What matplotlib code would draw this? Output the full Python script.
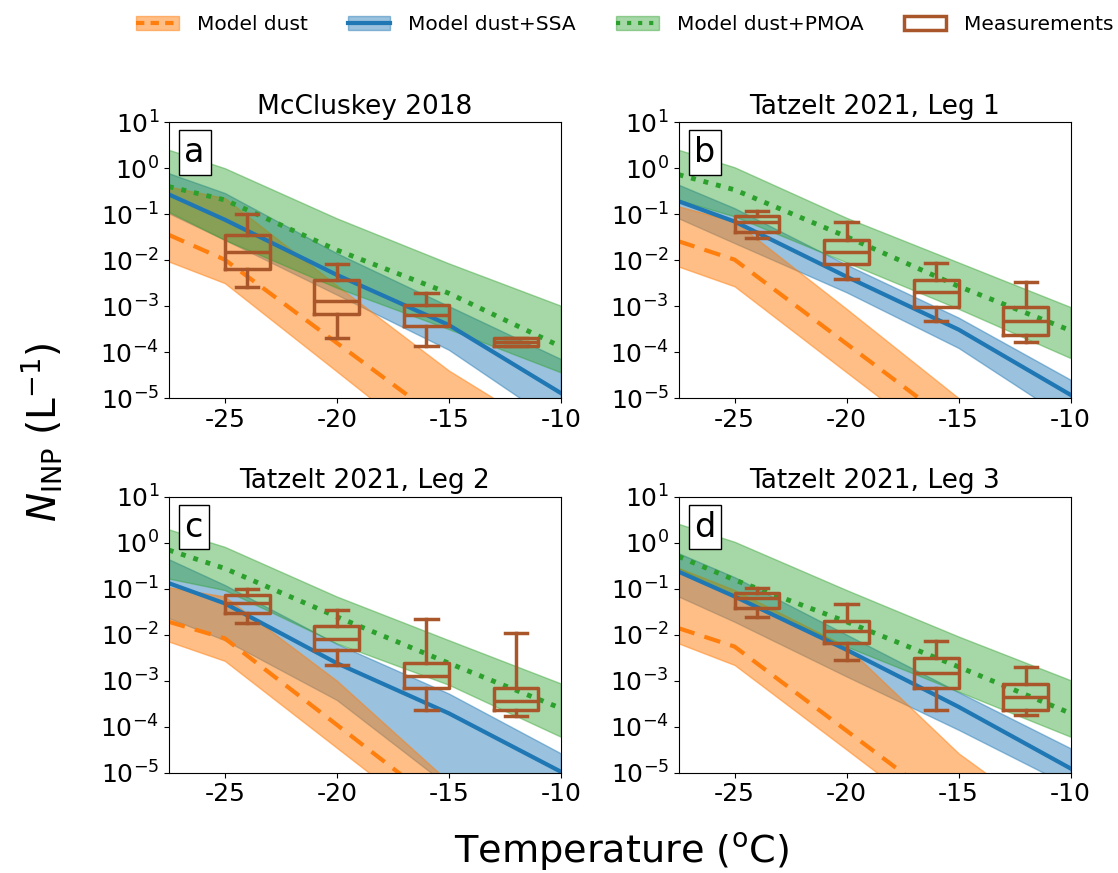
import numpy as np
import matplotlib
matplotlib.use('Agg')
import matplotlib.pyplot as plt
from matplotlib.patches import Patch
from matplotlib.lines import Line2D
from matplotlib.ticker import NullLocator

plt.rcParams['axes.unicode_minus'] = False

# model nodes (temperature, degC); model values stored as log10(N_INP / L^-1)
temps = [-27.5, -25, -20, -15, -10]

titles = ['McCluskey 2018', 'Tatzelt 2021, Leg 1', 'Tatzelt 2021, Leg 2', 'Tatzelt 2021, Leg 3']
letters = ['a', 'b', 'c', 'd']

dust_med = [[-1.45, -1.99, -3.80, -5.60, -7.40],
            [-1.59, -1.99, -3.82, -5.65, -7.48],
            [-1.72, -2.08, -3.96, -5.85, -7.73],
            [-1.86, -2.26, -4.09, -5.92, -7.75]]
dust_lo = [[-2.03, -2.50, -4.42, -6.35, -8.30],
           [-2.14, -2.57, -4.44, -6.30, -8.20],
           [-2.15, -2.57, -4.46, -6.35, -8.24],
           [-2.19, -2.66, -4.50, -6.35, -8.20]]
dust_hi = [[-0.40, -0.65, -2.55, -4.40, -5.90],
           [-0.83, -1.16, -3.06, -5.00, -6.90],
           [-0.97, -1.17, -3.00, -5.20, -7.00],
           [-0.55, -1.03, -2.26, -4.58, -6.35]]

ssa_med = [[-0.57, -1.12, -2.32, -3.41, -4.89],
           [-0.72, -1.16, -2.36, -3.51, -4.93],
           [-0.88, -1.32, -2.62, -3.71, -4.98],
           [-0.63, -1.17, -2.33, -3.57, -4.91]]
ssa_lo = [[-0.98, -1.56, -2.75, -3.95, -5.60],
          [-1.09, -1.63, -2.70, -3.91, -5.50],
          [-1.64, -2.12, -3.42, -5.30, -7.20],
          [-1.17, -1.72, -2.91, -4.07, -5.30]]
ssa_hi = [[-0.11, -0.54, -1.85, -3.00, -4.15],
          [-0.36, -0.87, -2.10, -3.25, -4.60],
          [-0.36, -0.92, -2.20, -3.28, -4.58],
          [-0.23, -0.75, -2.00, -3.25, -4.47]]

pmoa_med = [[-0.40, -0.69, -1.78, -2.72, -3.88],
            [-0.14, -0.47, -1.49, -2.57, -3.53],
            [-0.16, -0.56, -1.61, -2.62, -3.60],
            [-0.30, -0.81, -1.72, -2.70, -3.71]]
pmoa_lo = [[-0.95, -1.56, -2.60, -3.50, -4.44],
           [-0.69, -1.05, -2.05, -3.06, -4.13],
           [-0.78, -1.03, -2.19, -3.09, -4.22],
           [-0.56, -1.17, -2.26, -3.24, -4.22]]
pmoa_hi = [[0.40, 0.00, -1.09, -2.07, -2.99],
           [0.40, 0.02, -1.08, -2.05, -3.02],
           [0.29, -0.09, -1.17, -2.12, -3.06],
           [0.41, 0.02, -1.03, -2.04, -2.99]]

# measurements: box positions and log10 of (whislo, q1, med, q3, whishi)
box_temps = [-24, -20, -16, -12]
meas = [[[-2.59, -2.19, -1.83, -1.45, -0.99], [-3.70, -3.17, -2.88, -2.44, -2.09],
         [-3.86, -3.44, -3.19, -2.97, -2.71], [-3.86, -3.86, -3.78, -3.70, -3.70]],
        [[-1.52, -1.38, -1.18, -1.05, -0.93], [-2.41, -2.09, -1.83, -1.57, -1.16],
         [-3.33, -3.02, -2.70, -2.44, -2.07], [-3.77, -3.62, -3.33, -3.02, -2.48]],
        [[-1.75, -1.52, -1.32, -1.13, -1.00], [-2.67, -2.33, -2.09, -1.81, -1.47],
         [-3.64, -3.17, -2.90, -2.62, -1.67], [-3.77, -3.64, -3.44, -3.15, -1.97]],
        [[-1.61, -1.41, -1.21, -1.09, -0.99], [-2.55, -2.19, -1.93, -1.70, -1.33],
         [-3.64, -3.17, -2.84, -2.50, -2.14], [-3.75, -3.64, -3.35, -3.07, -2.71]]]

c_dust = '#ff7f0e'
c_ssa = '#1f77b4'
c_pmoa = '#2ca02c'
c_box = '#a9562b'

fig = plt.figure(figsize=(11.18, 8.73), dpi=100)
w, h = 0.3506, 0.316
positions = [(0.151, 0.544), (0.607, 0.544), (0.151, 0.115), (0.607, 0.115)]

T = np.array(temps)
for i in range(4):
    ax = fig.add_axes([positions[i][0], positions[i][1], w, h])
    # blue first so orange on top gives the brownish overlap
    ax.fill_between(T, 10**np.array(ssa_lo[i]), 10**np.array(ssa_hi[i]), color=c_ssa, alpha=0.45)
    ax.fill_between(T, 10**np.array(dust_lo[i]), 10**np.array(dust_hi[i]), color=c_dust, alpha=0.5)
    ax.fill_between(T, 10**np.array(pmoa_lo[i]), 10**np.array(pmoa_hi[i]), color=c_pmoa, alpha=0.42)
    ax.plot(T, 10**np.array(dust_med[i]), color=c_dust, lw=3, ls='--', dashes=(4, 2.5))
    ax.plot(T, 10**np.array(ssa_med[i]), color=c_ssa, lw=3)
    ax.plot(T, 10**np.array(pmoa_med[i]), color=c_pmoa, lw=3.5, ls=':')

    stats = []
    for t, q in zip(box_temps, meas[i]):
        v = 10**np.array(q)
        stats.append(dict(whislo=v[0], q1=v[1], med=v[2], q3=v[3], whishi=v[4], fliers=[]))
    props = dict(color=c_box, lw=2.5)
    ax.bxp(stats, positions=box_temps, widths=2, showfliers=False, manage_ticks=False,
           boxprops=props, medianprops=props, whiskerprops=props, capprops=props)

    ax.set_yscale('log')
    ax.set_ylim(1e-5, 10)
    ax.set_xlim(-27.5, -10)
    ax.set_yticks([1e-5, 1e-4, 1e-3, 1e-2, 1e-1, 1, 10])
    ax.yaxis.set_minor_locator(NullLocator())
    ax.set_xticks([-25, -20, -15, -10])
    ax.set_xticklabels(['-25', '-20', '-15', '-10'])
    ax.tick_params(labelsize=18)
    ax.set_title(titles[i], fontsize=19)
    ax.text(0.04, 0.95, letters[i], transform=ax.transAxes, fontsize=24, va='top', ha='left',
            bbox=dict(facecolor='white', edgecolor='black', pad=4), zorder=10)

fig.text(0.556, 0.024, 'Temperature ($^{\\rm o}$C)', fontsize=27.5, ha='center', va='center')
fig.text(0.038, 0.505, '$N_{\\rm INP}$ (L$^{-1}$)', fontsize=28, rotation=90, ha='center', va='center')

handles = [(Patch(color=c_dust, alpha=0.5), Line2D([], [], color=c_dust, lw=3, ls='--', dashes=(2, 1.5))),
           (Patch(color=c_ssa, alpha=0.45), Line2D([], [], color=c_ssa, lw=3)),
           (Patch(color=c_pmoa, alpha=0.42), Line2D([], [], color=c_pmoa, lw=3, ls=':')),
           Patch(facecolor='none', edgecolor=c_box, lw=2.5)]
labels = ['Model dust', 'Model dust+SSA', 'Model dust+PMOA', 'Measurements']
fig.legend(handles, labels, loc='center', bbox_to_anchor=(0.559, 0.972), ncol=4, frameon=False,
           fontsize=14.5, columnspacing=2.0, handlelength=2.1, handletextpad=0.9)

fig.savefig('out.png', dpi=100)
